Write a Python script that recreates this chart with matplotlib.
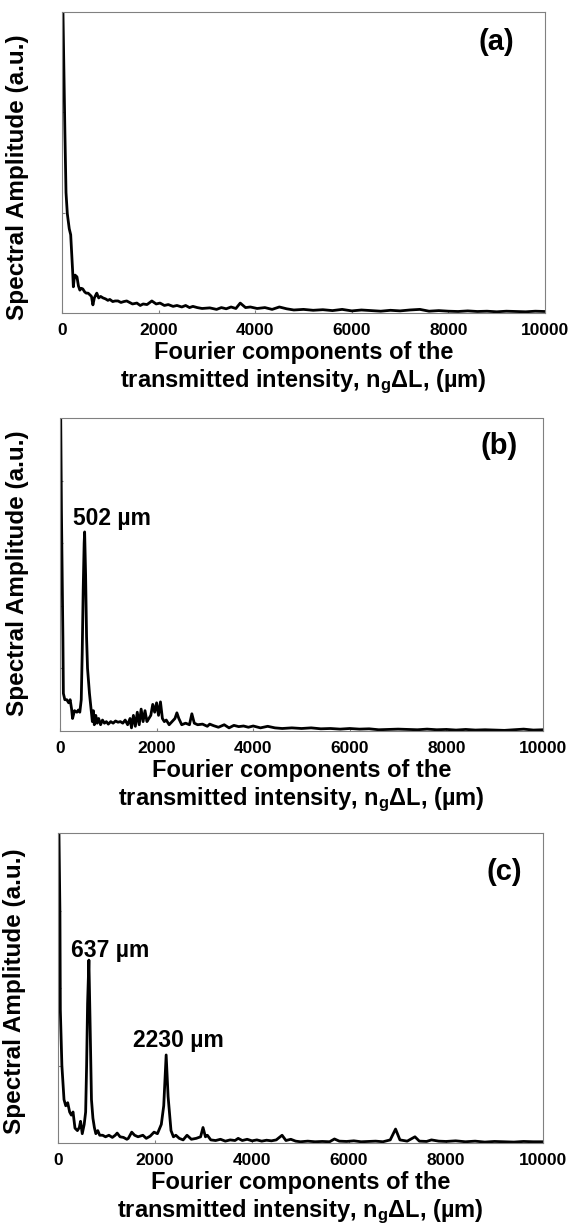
import matplotlib
matplotlib.use("Agg")
import matplotlib.pyplot as plt

plt.rcParams['font.family'] = ['Liberation Sans', 'DejaVu Sans']
plt.rcParams['font.weight'] = 'bold'
plt.rcParams['mathtext.fontset'] = 'custom'
plt.rcParams['mathtext.rm'] = 'Liberation Sans:bold'
plt.rcParams['mathtext.it'] = 'Liberation Sans:bold'
plt.rcParams['mathtext.bf'] = 'Liberation Sans:bold'

# panel (a): no resonance peak
xa = [0, 20, 40, 60, 83, 110, 150, 180, 200, 220,
      235, 250, 270, 310, 340, 370, 400, 430, 470, 500,
      540, 580, 610, 640, 670, 700, 720, 760, 800, 850,
      900, 950, 990, 1050, 1100, 1160, 1220, 1280, 1340, 1400,
      1460, 1550, 1620, 1680, 1760, 1860, 1950, 2030, 2120, 2200,
      2300, 2380, 2480, 2560, 2640, 2710, 2800, 2900, 3060, 3200,
      3300, 3400, 3500, 3600, 3690, 3800, 3900, 4040, 4200, 4350,
      4500, 4650, 4800, 5000, 5200, 5400, 5600, 5800, 6000, 6200,
      6400, 6600, 6800, 7000, 7200, 7410, 7600, 7800, 8000, 8200,
      8400, 8600, 8800, 9000, 9200, 9400, 9600, 9800, 10000]
ya = [1.35, 1.0, 0.8, 0.6, 0.4, 0.33, 0.28, 0.26, 0.2, 0.14,
      0.087, 0.11, 0.126, 0.12, 0.09, 0.076, 0.082, 0.08, 0.07, 0.066,
      0.066, 0.06, 0.055, 0.027, 0.05, 0.06, 0.066, 0.05, 0.055, 0.05,
      0.047, 0.042, 0.045, 0.038, 0.04, 0.04, 0.035, 0.038, 0.04, 0.035,
      0.03, 0.033, 0.025, 0.03, 0.028, 0.04, 0.03, 0.033, 0.025, 0.028,
      0.022, 0.025, 0.02, 0.025, 0.018, 0.022, 0.018, 0.015, 0.017, 0.012,
      0.018, 0.014, 0.02, 0.015, 0.033, 0.018, 0.02, 0.015, 0.018, 0.012,
      0.02, 0.014, 0.01, 0.012, 0.009, 0.011, 0.008, 0.012, 0.007, 0.01,
      0.008, 0.006, 0.009, 0.007, 0.01, 0.012, 0.006, 0.008, 0.006, 0.005,
      0.007, 0.005, 0.006, 0.004, 0.006, 0.005, 0.004, 0.006, 0.005]

# panel (b): peak at 502 um
xb = [0, 30, 60, 70, 100, 140, 180, 210, 240, 260,
      300, 350, 380, 410, 440, 460, 480, 500, 510, 530,
      550, 570, 590, 610, 630, 650, 670, 690, 710, 740,
      770, 800, 840, 880, 920, 960, 1000, 1050, 1100, 1150,
      1200, 1250, 1300, 1350, 1400, 1450, 1480, 1520, 1560, 1600,
      1640, 1680, 1720, 1760, 1800, 1840, 1880, 1920, 1960, 2000,
      2040, 2080, 2120, 2160, 2200, 2260, 2320, 2380, 2420, 2460,
      2520, 2600, 2680, 2730, 2780, 2850, 2950, 3050, 3100, 3180,
      3280, 3400, 3500, 3600, 3700, 3800, 3900, 4000, 4150, 4300,
      4450, 4600, 4800, 5000, 5200, 5400, 5600, 5800, 6000, 6200,
      6400, 6600, 6800, 7000, 7200, 7400, 7600, 7800, 8000, 8200,
      8400, 8600, 8800, 9000, 9200, 9400, 9600, 9800, 10000]
yb = [1.3, 0.7, 0.3, 0.12, 0.1, 0.1, 0.09, 0.1, 0.07, 0.04,
      0.065, 0.06, 0.067, 0.06, 0.1, 0.25, 0.45, 0.6, 0.636, 0.5,
      0.3, 0.2, 0.16, 0.12, 0.09, 0.06, 0.03, 0.065, 0.02, 0.05,
      0.025, 0.04, 0.02, 0.035, 0.025, 0.03, 0.022, 0.03, 0.025, 0.032,
      0.028, 0.03, 0.025, 0.035, 0.02, 0.04, 0.01, 0.05, 0.015, 0.06,
      0.02, 0.07, 0.03, 0.065, 0.03, 0.04, 0.05, 0.085, 0.06, 0.09,
      0.05, 0.093, 0.04, 0.03, 0.035, 0.02, 0.03, 0.04, 0.058, 0.04,
      0.02, 0.025, 0.02, 0.055, 0.025, 0.02, 0.022, 0.015, 0.022, 0.017,
      0.012, 0.02, 0.01, 0.018, 0.014, 0.016, 0.012, 0.016, 0.01, 0.015,
      0.01, 0.008, 0.01, 0.008, 0.01, 0.007, 0.008, 0.006, 0.008, 0.006,
      0.007, 0.004, 0.005, 0.006, 0.005, 0.004, 0.006, 0.004, 0.005, 0.003,
      0.005, 0.003, 0.004, 0.003, 0.002, 0.004, 0.006, 0.003, 0.004]

# panel (c): peaks at 637 um and 2230 um
xc = [0, 20, 40, 48, 80, 124, 160, 200, 240, 275,
      310, 350, 400, 440, 465, 500, 540, 570, 590, 610,
      637, 660, 690, 720, 750, 780, 820, 860, 920, 980,
      1050, 1120, 1180, 1220, 1280, 1350, 1420, 1450, 1520, 1580,
      1650, 1750, 1820, 1900, 1980, 2050, 2130, 2180, 2230, 2270,
      2330, 2380, 2430, 2500, 2580, 2660, 2750, 2850, 2940, 2990,
      3040, 3080, 3150, 3250, 3350, 3450, 3550, 3650, 3715, 3800,
      3900, 4000, 4100, 4200, 4300, 4400, 4500, 4620, 4700, 4800,
      4900, 5000, 5150, 5300, 5450, 5600, 5700, 5800, 5950, 6100,
      6250, 6400, 6550, 6700, 6850, 6960, 7050, 7200, 7360, 7450,
      7600, 7700, 7850, 8000, 8200, 8400, 8600, 8800, 9000, 9200,
      9400, 9600, 9800, 10000]
yc = [1.4, 1.0, 0.74, 0.43, 0.25, 0.14, 0.12, 0.13, 0.1, 0.09,
      0.1, 0.048, 0.04, 0.05, 0.07, 0.03, 0.06, 0.1, 0.25, 0.45,
      0.59, 0.4, 0.14, 0.08, 0.05, 0.03, 0.04, 0.025, 0.025, 0.02,
      0.025, 0.018, 0.025, 0.032, 0.02, 0.018, 0.012, 0.015, 0.035, 0.025,
      0.02, 0.025, 0.015, 0.022, 0.035, 0.03, 0.06, 0.12, 0.284, 0.15,
      0.04, 0.02, 0.025, 0.015, 0.01, 0.025, 0.012, 0.015, 0.02, 0.05,
      0.02, 0.025, 0.01, 0.008, 0.012, 0.006, 0.01, 0.008, 0.015, 0.008,
      0.012, 0.007, 0.01, 0.006, 0.009, 0.007, 0.01, 0.025, 0.008, 0.012,
      0.006, 0.004, 0.006, 0.004, 0.005, 0.004, 0.013, 0.006, 0.005, 0.007,
      0.004, 0.005, 0.006, 0.004, 0.01, 0.045, 0.01, 0.006, 0.02, 0.006,
      0.005, 0.01, 0.006, 0.005, 0.007, 0.004, 0.006, 0.003, 0.005, 0.004,
      0.003, 0.005, 0.004, 0.004]

xticks = [0, 2000, 4000, 6000, 8000, 10000]
panel_names = ["(a)", "(b)", "(c)"]
peak_labels = [[], [("502 µm", 1076, 0.68)],
               [("637 µm", 1076, 0.62), ("2230 µm", 2474, 0.33)]]
xlabel = "Fourier components of the\ntransmitted intensity, n$_{g}$ΔL, (µm)"
ylabel = "Spectral Amplitude (a.u.)"

fig = plt.figure(figsize=(5.71, 12.28), dpi=100)
H = 1228.0
W = 571.0
# left, top, right, bottom in pixels
boxes = [(62, 12, 545, 313), (60, 418, 543, 731), (58, 833, 543, 1143)]
name_pos = [(0.90, 0.90), (0.909, 0.91), (0.92, 0.874)]
ylab_pos = [(-0.068, 0.45), (-0.064, 0.505), (-0.066, 0.49)]
minor_y = [[1/3, 2/3], [0.2, 0.4, 0.6, 0.8], [0.25, 0.5, 0.75]]

for i, (x, y) in enumerate([(xa, ya), (xb, yb), (xc, yc)]):
    l, t, r, b = boxes[i]
    ax = fig.add_axes([l / W, (H - b) / H, (r - l) / W, (b - t) / H])
    ax.plot(x, y, color="black", lw=2)
    ax.set_xlim(0, 10000)
    ax.set_ylim(0, 1)
    for s in ax.spines.values():
        s.set_linestyle((0, (1, 1)))
        s.set_linewidth(0.8)
        s.set_color("0.5")
    ax.set_xticks(xticks)
    ax.set_xticklabels([str(v) for v in xticks], fontsize=12.5, fontweight="bold")
    ax.tick_params(axis="x", length=2, direction="in", color="0.5", pad=7)
    ax.set_yticks(minor_y[i])
    ax.set_yticklabels([])
    ax.tick_params(axis="y", length=2, direction="in", color="0.5")
    ax.set_xlabel(xlabel, fontsize=17, fontweight="bold", linespacing=1.2, labelpad=2)
    ax.set_ylabel(ylabel, fontsize=17.5, fontweight="bold")
    ax.yaxis.set_label_coords(*ylab_pos[i])
    ax.text(name_pos[i][0], name_pos[i][1], panel_names[i], transform=ax.transAxes,
            fontsize=21, fontweight="bold", ha="center", va="center")
    for txt, px, py in peak_labels[i]:
        ax.text(px, py, txt, fontsize=16.5, fontweight="bold", ha="center", va="center")

fig.savefig("out.png", dpi=100)
